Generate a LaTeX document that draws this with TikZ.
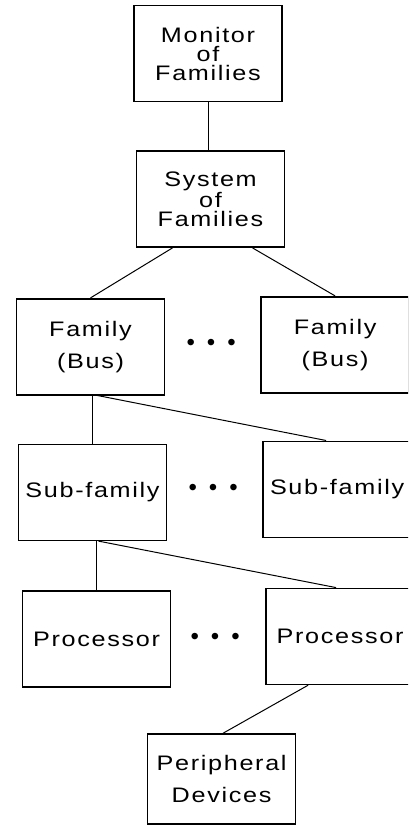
\documentclass[tikz,border=0pt]{standalone}
\usepackage{fontspec}
\setmainfont{Liberation Sans}[FakeStretch=1.2, LetterSpace=8]
\newfontfamily\dotfont{Liberation Sans}
\usetikzlibrary{positioning}

\begin{document}
\begin{tikzpicture}[x=1pt, y=1pt, node distance=48pt and 95pt, every node/.style={font=\fontsize{21}{19}\selectfont}]
\tikzstyle{box}=[draw, line width=1.6pt, minimum width=148pt, minimum height=96pt, align=center, inner sep=0pt]
\tikzstyle{loose}=[box, font=\fontsize{21}{32}\selectfont]
\tikzstyle{link}=[line width=1pt]
\tikzstyle{dots}=[inner sep=0pt, font=\dotfont\fontsize{24}{24}\selectfont]
\useasboundingbox (0,0) rectangle (408,-826);
\clip (0,0) rectangle (408,-826);

\node[box] (monitor) at (208,-53.5) {Monitor\\of\\Families};
\node[box, below=of monitor, xshift=2.5pt] (system) {System\\of\\Families};
\draw[link] (monitor.south) -- (monitor.south |- system.north);

\node[loose, below=50pt of system, xshift=-120pt] (family) {Family\\(Bus)};
\node[loose, right=of family, yshift=2pt] (familyR) {Family\\(Bus)};
\node[dots, right=21pt of family, anchor=west, yshift=2pt] (familyDots) {\textbullet\hspace{12pt}\textbullet\hspace{12pt}\textbullet};
\draw[link] ([xshift=-38pt]system.south) -- (family.north);
\draw[link] ([xshift=42pt]system.south) -- (familyR.north);

\node[box, below=of family, xshift=2pt] (subfam) {Sub-family};
\node[box, right=of subfam, yshift=3pt] (subfamR) {Sub-family};
\node[dots, right=21pt of subfam, anchor=west, yshift=2pt] (subfamDots) {\textbullet\hspace{12pt}\textbullet\hspace{12pt}\textbullet};
\draw[link] (subfam.north) -- (subfam.north |- family.south);
\draw[link] ([xshift=7pt]family.south) -- ([xshift=-11pt]subfamR.north);

\node[box, below=49pt of subfam, xshift=4pt] (proc) {Processor};
\node[box, right=94pt of proc, yshift=2.5pt] (procR) {Processor};
\node[dots, right=19pt of proc, anchor=west] (procDots) {\textbullet\hspace{12pt}\textbullet\hspace{12pt}\textbullet};
\draw[link] (proc.north) -- (proc.north |- subfam.south);
\draw[link] ([xshift=6pt]subfam.south) -- ([xshift=-4pt]procR.north);

\node[loose, below=48pt of procR, xshift=-118.5pt, minimum height=90pt] (periph) {Peripheral\\Devices};
\draw[link] ([xshift=-32pt]procR.south) -- ([xshift=1.5pt]periph.north);
\end{tikzpicture}
\end{document}
